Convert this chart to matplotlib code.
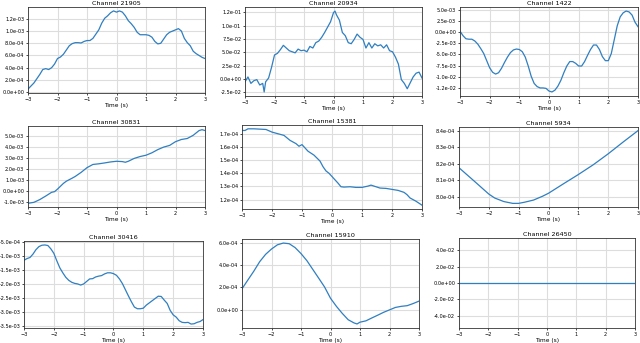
import matplotlib
matplotlib.use('Agg')
import matplotlib.pyplot as plt
import matplotlib.ticker as mticker
import numpy as np
from decimal import Decimal, ROUND_HALF_EVEN

# Channel names
channels = ['21905', '20934', '1422', '30831', '15381', '5934',
            '30416', '15910', '26450']

t_01 = np.round(np.arange(-3.0, 3.01, 0.1), 2)

ch_21905 = [0.5e-4, 1.0e-4, 1.5e-4, 2.2e-4, 2.9e-4, 3.7e-4, 3.85e-4, 3.7e-4,
            4.0e-4, 4.6e-4, 5.5e-4, 5.75e-4, 6.2e-4, 6.9e-4, 7.6e-4, 7.95e-4,
            8.1e-4, 8.1e-4, 8.05e-4, 8.3e-4, 8.45e-4, 8.45e-4, 8.8e-4, 9.5e-4,
            1.02e-3, 1.13e-3, 1.21e-3, 1.25e-3, 1.30e-3, 1.33e-3, 1.31e-3,
            1.33e-3, 1.31e-3, 1.25e-3, 1.17e-3, 1.12e-3, 1.06e-3, 0.98e-3,
            0.94e-3, 0.94e-3, 0.94e-3, 0.93e-3, 0.90e-3, 0.83e-3, 0.79e-3,
            0.80e-3, 0.87e-3, 0.94e-3, 0.98e-3, 1.0e-3, 1.02e-3, 1.04e-3,
            1.0e-3, 0.88e-3, 0.81e-3, 0.76e-3, 0.67e-3, 0.63e-3, 0.60e-3,
            0.57e-3, 0.55e-3]

t_20934 = [-3.0, -2.9, -2.8, -2.7, -2.6, -2.5, -2.4, -2.35, -2.3, -2.2, -2.1,
           -2.0, -1.9, -1.8, -1.7, -1.6, -1.5, -1.4, -1.3, -1.2, -1.1, -1.0,
           -0.9, -0.8, -0.7, -0.6, -0.5, -0.4, -0.3, -0.2, -0.1, 0.0, 0.05,
           0.1, 0.2, 0.3, 0.4, 0.5, 0.6, 0.7, 0.8, 0.9, 1.0, 1.1, 1.2, 1.3,
           1.4, 1.5, 1.6, 1.7, 1.8, 1.9, 2.0, 2.1, 2.2, 2.3, 2.4, 2.5, 2.6,
           2.7, 2.8, 2.9, 3.0]
ch_20934 = [-0.005, 0.004, -0.008, -0.003, -0.001, -0.011, -0.008, -0.024,
            -0.005, 0.002, 0.022, 0.045, 0.048, 0.055, 0.063, 0.058, 0.053,
            0.051, 0.049, 0.056, 0.053, 0.054, 0.051, 0.061, 0.058, 0.068,
            0.071, 0.078, 0.087, 0.097, 0.107, 0.124, 0.127, 0.120, 0.110,
            0.087, 0.081, 0.068, 0.066, 0.074, 0.084, 0.078, 0.074, 0.058,
            0.068, 0.058, 0.066, 0.062, 0.064, 0.058, 0.064, 0.053, 0.051,
            0.041, 0.028, -0.001, -0.008, -0.018, -0.007, 0.004, 0.011,
            0.013, 0.002]

ch_1422 = [0.2e-3, -0.8e-3, -1.5e-3, -1.6e-3, -1.6e-3, -2.0e-3, -2.7e-3,
           -3.7e-3, -4.8e-3, -6.4e-3, -8.0e-3, -9.0e-3, -9.4e-3, -9.1e-3,
           -8.1e-3, -6.8e-3, -5.6e-3, -4.6e-3, -4.0e-3, -3.8e-3, -3.9e-3,
           -4.4e-3, -5.6e-3, -7.6e-3, -9.9e-3, -11.5e-3, -12.2e-3, -12.5e-3,
           -12.5e-3, -12.6e-3, -13.2e-3, -13.4e-3, -13.0e-3, -12.1e-3,
           -10.8e-3, -9.1e-3, -7.6e-3, -6.6e-3, -6.6e-3, -7.0e-3, -7.6e-3,
           -7.6e-3, -6.6e-3, -5.2e-3, -3.9e-3, -2.9e-3, -2.9e-3, -3.9e-3,
           -5.5e-3, -6.4e-3, -6.4e-3, -4.8e-3, -1.7e-3, 1.4e-3, 3.4e-3,
           4.3e-3, 4.7e-3, 4.5e-3, 3.8e-3, 2.2e-3, 1.2e-3]

t_30831 = [-3.0, -2.8, -2.6, -2.4, -2.2, -2.1, -2.0, -1.8, -1.7, -1.5, -1.4,
           -1.2, -1.0, -0.8, -0.6, -0.4, -0.2, 0.0, 0.2, 0.3, 0.4, 0.6, 0.8,
           1.0, 1.2, 1.4, 1.6, 1.8, 2.0, 2.2, 2.4, 2.6, 2.8, 2.9, 3.0]
ch_30831 = [-1.09e-3, -1.0e-3, -0.75e-3, -0.43e-3, -0.09e-3, -0.03e-3,
            0.2e-3, 0.72e-3, 0.92e-3, 1.2e-3, 1.35e-3, 1.72e-3, 2.15e-3,
            2.44e-3, 2.5e-3, 2.58e-3, 2.67e-3, 2.73e-3, 2.7e-3, 2.64e-3,
            2.73e-3, 2.99e-3, 3.16e-3, 3.28e-3, 3.5e-3, 3.79e-3, 4.02e-3,
            4.17e-3, 4.51e-3, 4.71e-3, 4.8e-3, 5.09e-3, 5.52e-3, 5.6e-3,
            5.52e-3]

t_15381 = [-3.0, -2.9, -2.8, -2.6, -2.4, -2.2, -2.0, -1.8, -1.6, -1.4, -1.2,
           -1.1, -1.0, -0.9, -0.8, -0.6, -0.4, -0.3, -0.2, -0.1, 0.0, 0.1,
           0.2, 0.3, 0.4, 0.6, 0.8, 1.0, 1.2, 1.3, 1.4, 1.6, 1.8, 2.0, 2.2,
           2.4, 2.5, 2.6, 2.8, 3.0]
ch_15381 = [1.725e-4, 1.725e-4, 1.7375e-4, 1.7375e-4, 1.735e-4, 1.7325e-4,
            1.7125e-4, 1.70e-4, 1.6875e-4, 1.65e-4, 1.625e-4, 1.605e-4,
            1.6175e-4, 1.5925e-4, 1.5675e-4, 1.5375e-4, 1.4925e-4, 1.45e-4,
            1.4175e-4, 1.40e-4, 1.375e-4, 1.35e-4, 1.325e-4, 1.2975e-4,
            1.295e-4, 1.2975e-4, 1.2925e-4, 1.2925e-4, 1.3025e-4, 1.31e-4,
            1.3025e-4, 1.2875e-4, 1.285e-4, 1.2775e-4, 1.27e-4, 1.255e-4,
            1.2375e-4, 1.2125e-4, 1.1875e-4, 1.1575e-4]

t_5934 = [-3.0, -2.5, -2.0, -1.8, -1.5, -1.2, -1.0, -0.8, -0.5, -0.2, 0.0,
          0.5, 1.0, 1.5, 2.0, 2.5, 3.0]
ch_5934 = [8.176e-4, 8.097e-4, 8.017e-4, 7.993e-4, 7.972e-4, 7.961e-4,
           7.961e-4, 7.968e-4, 7.981e-4, 8.004e-4, 8.022e-4, 8.079e-4,
           8.135e-4, 8.194e-4, 8.26e-4, 8.331e-4, 8.40e-4]

ch_30416 = [-1.15e-3, -1.09e-3, -1.05e-3, -0.93e-3, -0.77e-3, -0.66e-3,
            -0.61e-3, -0.60e-3, -0.62e-3, -0.74e-3, -0.90e-3, -1.17e-3,
            -1.42e-3, -1.60e-3, -1.76e-3, -1.87e-3, -1.94e-3, -1.98e-3,
            -2.0e-3, -2.04e-3, -2.0e-3, -1.91e-3, -1.82e-3, -1.81e-3,
            -1.75e-3, -1.72e-3, -1.70e-3, -1.64e-3, -1.60e-3, -1.60e-3,
            -1.63e-3, -1.69e-3, -1.82e-3, -1.99e-3, -2.21e-3, -2.43e-3,
            -2.64e-3, -2.83e-3, -2.89e-3, -2.89e-3, -2.87e-3, -2.76e-3,
            -2.68e-3, -2.60e-3, -2.52e-3, -2.44e-3, -2.45e-3, -2.58e-3,
            -2.70e-3, -2.95e-3, -3.11e-3, -3.19e-3, -3.32e-3, -3.38e-3,
            -3.39e-3, -3.38e-3, -3.44e-3, -3.43e-3, -3.38e-3, -3.35e-3,
            -3.28e-3]

t_15910 = [-3.0, -2.8, -2.6, -2.4, -2.2, -2.0, -1.8, -1.6, -1.4, -1.2, -1.0,
           -0.8, -0.6, -0.4, -0.2, 0.0, 0.2, 0.4, 0.6, 0.8, 0.9, 1.0, 1.2,
           1.4, 1.6, 1.8, 2.0, 2.2, 2.4, 2.6, 2.8, 3.0]
ch_15910 = [1.87e-4, 2.67e-4, 3.46e-4, 4.32e-4, 4.98e-4, 5.46e-4, 5.84e-4,
            6.0e-4, 5.94e-4, 5.59e-4, 5.05e-4, 4.41e-4, 3.62e-4, 2.83e-4,
            2.03e-4, 1.02e-4, 0.29e-4, -0.35e-4, -0.92e-4, -1.21e-4,
            -1.30e-4, -1.14e-4, -1.02e-4, -0.76e-4, -0.51e-4, -0.25e-4,
            -0.03e-4, 0.19e-4, 0.29e-4, 0.35e-4, 0.54e-4, 0.76e-4]

t_26450 = [-3.0, 3.0]
ch_26450 = [0.0, 0.0]

series = [(t_01, ch_21905), (t_20934, ch_20934), (t_01, ch_1422),
          (t_30831, ch_30831), (t_15381, ch_15381), (t_5934, ch_5934),
          (t_01, ch_30416), (t_15910, ch_15910), (t_26450, ch_26450)]

# y tick spacing per panel
steps = [2e-4, 2.5e-2, 2.5e-3, 1e-3, 1e-5, 1e-5, 5e-4, 2e-4, 2e-2]

# Axes boxes in pixels: left, right, top, bottom
W, H = 640, 343
boxes = [(28, 205, 7, 93), (245, 422, 7, 96), (460, 638, 7, 96),
         (28, 205, 126, 207), (242, 422, 125, 209), (459, 638, 127, 207),
         (24, 203, 241, 328), (242, 419, 239, 328), (459, 635, 238, 328)]


def sci_fmt(v, pos):
    # one-decimal scientific label, half-even rounding on the decimal value
    if abs(v) < 1e-15:
        return '0.0e+00'
    d = Decimal('%.6e' % v)
    exp = d.adjusted()
    mant = d.scaleb(-exp).quantize(Decimal('0.1'), rounding=ROUND_HALF_EVEN)
    if abs(mant) >= 10:
        mant = (mant / 10).quantize(Decimal('0.1'))
        exp += 1
    return '%se%+03d' % (mant, exp)


fig = plt.figure(figsize=(W / 100, H / 100), dpi=100)
for i, name in enumerate(channels):
    l, r, t, b = boxes[i]
    ax = fig.add_axes([l / W, 1 - b / H, (r - l) / W, (b - t) / H])
    x, y = series[i]
    ax.plot(x, y, color='#2f7fc1', lw=0.9)
    ax.set_xlim(-3, 3)
    ax.set_title('Channel ' + name, fontsize=4.6, pad=1.5)
    ax.set_xlabel('Time (s)', fontsize=4.2, labelpad=1)
    ax.yaxis.set_major_locator(mticker.MultipleLocator(steps[i]))
    ax.yaxis.set_major_formatter(mticker.FuncFormatter(sci_fmt))
    ax.tick_params(labelsize=3.6, length=1.5, width=0.5, pad=1.2)
    ax.grid(True, color='#dddddd', lw=0.8)
    for s in ax.spines.values():
        s.set_color('#333333')
        s.set_linewidth(0.6)

plt.savefig('out.png', dpi=100)
